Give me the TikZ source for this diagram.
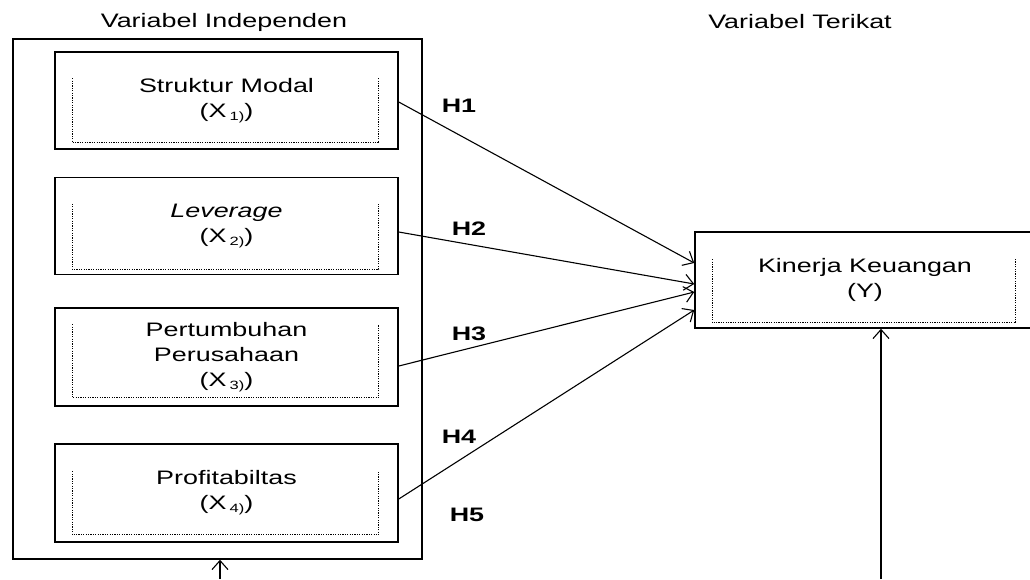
\documentclass[tikz,border=0pt]{standalone}
\usepackage{fontspec}
\setmainfont{Liberation Sans}[FakeStretch=1.38]
\usetikzlibrary{arrows.meta}
\newcommand{\varsub}[1]{\,\raisebox{-3pt}{\fontsize{12}{13}\selectfont #1)}}

\begin{document}
\begin{tikzpicture}[x=1pt,y=-1pt,
    every node/.style={font=\fontsize{19.5}{25}\selectfont},
    box/.style={draw, line width=1.5pt, minimum width=343pt, minimum height=97pt, align=center, inner sep=0pt},
    hyp/.style={font=\fontsize{19.5}{25}\selectfont\bfseries},
    link/.style={-{Straight Barb[length=9pt,width=16pt]}, line width=1.1pt}]
    \useasboundingbox (0,0) rectangle (1030,579);
    % headings
    \node (indeplbl) at (224,22) {Variabel Independen};
    \node (terikatlbl) at (800,22) {Variabel Terikat};
    % independent variables
    \node [draw, line width=1.5pt, minimum width=409pt, minimum height=520pt] (indep) at (217.5,299) {};
    \node [box] (x1) at (226.5,100.5) {Struktur Modal\\(X\varsub{1})};
    \node [box] (x2) at (226.5,226) {\textit{Leverage}\\(X\varsub{2})};
    \node [box, minimum height=98pt] (x3) at (226.5,357) {Pertumbuhan\\Perusahaan\\(X\varsub{3})};
    \node [box, minimum height=98pt] (x4) at (226.5,493) {Profitabiltas\\(X\varsub{4})};
    % dependent variable
    \node [box, minimum width=340pt, minimum height=96pt] (kin) at (865,280) {Kinerja Keuangan\\(Y)};
    % dotted inner frames
    \foreach \b/\t/\u in {x1/27/7, x2/27/6, x3/17/9, x4/28/8, kin/28/6}
    \draw [line width=1.3pt, dash pattern=on 1.2pt off 1.2pt] ([xshift=18pt,yshift=-\t pt]\b.north west) |- ([xshift=-20pt,yshift=\u pt]\b.south east) -- ([xshift=-20pt,yshift=-\t pt]\b.north east);
    % hypotheses
    \foreach \s/\a/\e in {x1/-1.5/17, x2/-6/-4, x3/-9/-12, x4/-6/-30}
    \draw [link] ([yshift=\a pt]\s.east) -- ([yshift=\e pt]kin.west);
    \foreach \n/\x/\y in {1/459/106, 2/469/229, 3/469/334, 4/459/437, 5/467/515}
    \node [hyp] (h\n) at (\x,\y) {H\n};
    \coordinate (indepsrc) at (220,579);
    \draw [link] (indepsrc) -- (indepsrc |- indep.south);
    \coordinate (kinsrc) at (881,579);
    \draw [link] (kinsrc) -- (kinsrc |- kin.south);
\end{tikzpicture}
\end{document}
